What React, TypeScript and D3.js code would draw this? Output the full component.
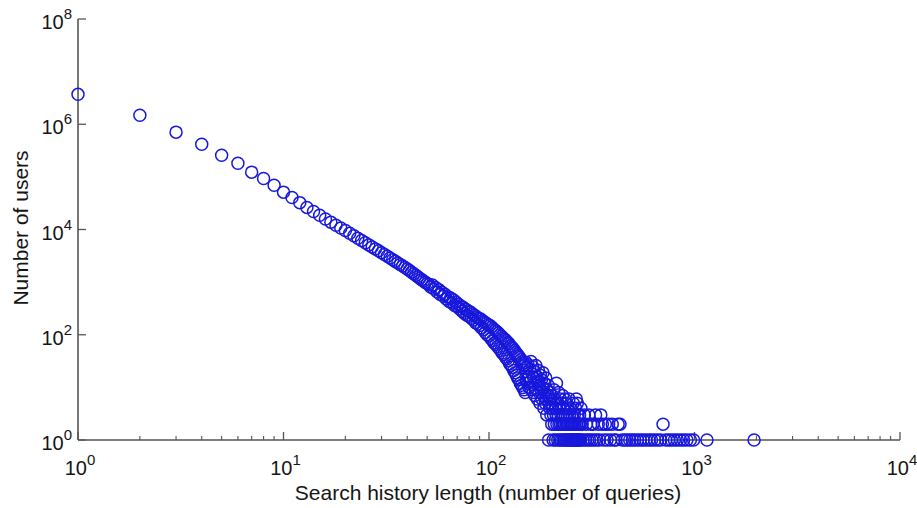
import React from 'react';
import * as d3 from 'd3';

// users per history length, x = 1..50
const headCounts = [
  3700000, 1480000, 708000, 417000, 257000, 182000, 123000, 93300, 69200, 51300,
  40700, 32400, 26300, 21900, 18600, 15800, 13800, 12000, 10700, 9550,
  8490, 7600, 6840, 6180, 5600, 5100, 4670, 4280, 3930, 3630,
  3350, 3100, 2870, 2660, 2480, 2310, 2160, 2020, 1890, 1780,
  1660, 1545, 1440, 1350, 1265, 1190, 1115, 1050, 990, 940,
];

// x = 51..150
const midCounts = [
  900, 810, 880, 740, 790, 650, 720, 580, 640, 540,
  590, 480, 530, 430, 500, 400, 460, 360, 420, 340,
  380, 310, 350, 280, 330, 255, 305, 235, 285, 225,
  270, 205, 250, 190, 235, 170, 220, 160, 205, 150,
  200, 135, 185, 125, 175, 110, 165, 100, 155, 95,
  150, 85, 140, 78, 130, 70, 122, 65, 115, 60,
  108, 55, 100, 50, 94, 45, 88, 42, 82, 38,
  78, 35, 72, 32, 68, 28, 62, 26, 58, 24,
  55, 21, 50, 19, 46, 17, 43, 15, 40, 14,
  37, 12, 34, 11, 31, 10, 29, 9, 27, 8,
];

// x = 151..280
const lowCounts = [
  30, 14, 24, 12, 27, 16, 10, 22, 13, 31,
  9, 18, 25, 8, 15, 20, 7, 12, 26, 9,
  16, 6, 13, 21, 8, 11, 5, 17, 9, 14,
  6, 10, 19, 7, 4, 12, 8, 5, 15, 6,
  3, 9, 7, 11, 1, 5, 8, 4, 6, 3,
  5, 2, 7, 4, 1, 3, 9, 2, 6, 1,
  4, 3, 12, 2, 5, 1, 3, 8, 2, 4,
  1, 6, 2, 3, 1, 5, 2, 7, 1, 3,
  4, 2, 1, 6, 3, 1, 2, 5, 1, 3,
  2, 4, 1, 2, 6, 1, 3, 2, 1, 4,
  1, 2, 3, 1, 2, 1, 5, 1, 2, 3,
  1, 2, 1, 4, 1, 6, 2, 1, 5, 1,
  3, 2, 1, 2, 1, 3, 1, 2, 1, 4,
];

// sparse long histories
const tailLengths = [
  284, 287, 291, 295, 298, 302, 306, 309, 313, 317,
  321, 326, 330, 335, 340, 345, 350, 356, 362, 368,
  375, 382, 390, 398, 406, 415, 425, 434, 445, 458,
  470, 484, 498, 512, 528, 545, 562, 580, 600, 618,
  640, 662, 685, 703, 725, 748, 772, 798, 825, 855,
  885, 918, 955, 990, 1150, 1950,
];
const tailCounts = [
  2, 1, 3, 1, 2, 1, 3, 1, 2, 1,
  2, 1, 3, 1, 2, 1, 3, 2, 1, 2,
  1, 2, 1, 2, 1, 1, 2, 2, 1, 1,
  1, 1, 1, 1, 1, 1, 1, 1, 1, 1,
  1, 1, 1, 2, 1, 1, 1, 1, 1, 1,
  1, 1, 1, 1, 1, 1,
];

const xTickPowers = [0, 1, 2, 3, 4];
const yTickPowers = [0, 2, 4, 6, 8];

const W = 917;
const H = 508;
const axisColor = '#555';
const markColor = '#1818dc';
const textColor = '#151515';
const font = '"Liberation Sans", Arial, Helvetica, sans-serif';

export default function App() {
  const x = d3.scaleLog().domain([1, 1e4]).range([78, 900]);
  const y = d3.scaleLog().domain([1, 1e8]).range([440, 19]);

  const points: [number, number][] = [];
  [...headCounts, ...midCounts, ...lowCounts].forEach((c, i) => points.push([i + 1, c]));
  tailLengths.forEach((l, i) => points.push([l, tailCounts[i]]));

  const minorX = x.ticks().filter(t => !xTickPowers.some(p => Math.abs(t - 10 ** p) < 1e-9));

  return (
    <svg width={W} height={H} style={{ position: 'absolute', left: 0, top: 0, background: '#fff' }} fontFamily={font}>
      {/* axes */}
      <line x1={78} x2={78} y1={y(1e8)} y2={y(1)} stroke={axisColor} strokeWidth={1.6} />
      <line x1={78} x2={x(1e4)} y1={440} y2={440} stroke={axisColor} strokeWidth={1.6} />
      {xTickPowers.map(p => (
        <line key={'xt' + p} x1={x(10 ** p)} x2={x(10 ** p)} y1={440} y2={432} stroke={axisColor} strokeWidth={1.3} />
      ))}
      {minorX.map(t => (
        <line key={'xm' + t} x1={x(t)} x2={x(t)} y1={440} y2={436} stroke={axisColor} strokeWidth={1.1} />
      ))}
      {yTickPowers.map(p => (
        <line key={'yt' + p} x1={78} x2={86} y1={y(10 ** p)} y2={y(10 ** p)} stroke={axisColor} strokeWidth={1.3} />
      ))}
      {xTickPowers.map(p => (
        <text key={'xl' + p} x={x(10 ** p) + 2} y={475} textAnchor="middle" fontSize={20} fill={textColor}>
          10<tspan dy={-10} fontSize={15}>{p}</tspan>
        </text>
      ))}
      {yTickPowers.map(p => (
        <text key={'yl' + p} x={72} y={y(10 ** p) + 10} textAnchor="end" fontSize={20} fill={textColor}>
          10<tspan dy={-10} fontSize={15}>{p}</tspan>
        </text>
      ))}
      <text x={488} y={500} textAnchor="middle" fontSize={21} fill={textColor}>
        Search history length (number of queries)
      </text>
      <text transform="translate(28,228) rotate(-90)" textAnchor="middle" fontSize={21} fill={textColor}>
        Number of users
      </text>
      {/* markers */}
      {points.map(([l, c], i) => (
        <circle key={i} cx={x(l)} cy={y(c)} r={6} fill="none" stroke={markColor} strokeWidth={1.5} />
      ))}
    </svg>
  );
}
